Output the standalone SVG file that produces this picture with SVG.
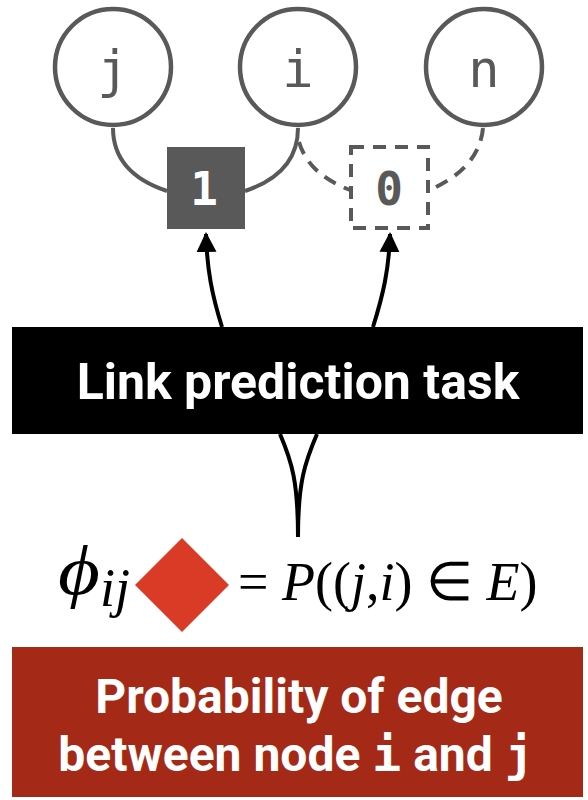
<svg xmlns="http://www.w3.org/2000/svg" width="588" height="800" viewBox="0 0 588 800">
<style>
.node{fill:#fff;stroke:#595959;stroke-width:4.5}
.lbl{font-family:"DejaVu Sans Mono",monospace;font-size:52px;fill:#595959;text-anchor:middle}
.edge{fill:none;stroke:#595959;stroke-width:4}
.dash{stroke-dasharray:13 9}
.arr{fill:none;stroke:#000;stroke-width:4}
.bold{font-family:Roboto,"Liberation Sans",sans-serif;font-weight:bold;fill:#fff;text-anchor:middle}
.math{font-family:"Liberation Serif",serif;font-size:54px;fill:#000}
</style>
<defs>
<marker id="ah" viewBox="0 0 10 10" refX="9" refY="5" markerWidth="5" markerHeight="6.5" orient="auto" markerUnits="strokeWidth">
<path d="M0,0 L10,5 L0,10 z" fill="#000"/>
</marker>
</defs>
<rect width="588" height="800" fill="#fff"/>
<g id="connectors">
<path class="edge" d="M113,128 C113,165 140,182 167,191"/>
<path class="edge" d="M298,128 C298,165 272,182 245,191"/>
<path class="edge dash" d="M299,142 C306,166 326,181 350,190"/>
<path class="edge dash" d="M483,128 C480,160 456,178 430,190"/>
<path class="arr" d="M222,327 C212,295 207,270 206,234" marker-end="url(#ah)"/>
<path class="arr" d="M373,327 C383,295 389,270 390,234" marker-end="url(#ah)"/>
<path class="arr" d="M280,434 C292,462 298,482 298,537"/>
<path class="arr" d="M317,434 C305,462 298,482 298,537"/>
</g>
<g id="node-j"><circle class="node" cx="113" cy="67" r="58"/><text class="lbl" x="113" y="87">j</text></g>
<g id="node-i"><circle class="node" cx="298" cy="67" r="58"/><text class="lbl" x="298" y="87">i</text></g>
<g id="node-n"><circle class="node" cx="484" cy="67" r="58"/><text class="lbl" x="484" y="87">n</text></g>
<g id="edge-1"><rect x="167" y="147" width="78" height="82" fill="#595959"/><text x="204" y="205" font-family="'DejaVu Sans Mono',monospace" font-weight="bold" font-size="46" fill="#fff" text-anchor="middle">1</text></g>
<g id="edge-0"><rect x="351" y="147" width="77" height="81" fill="#fff" stroke="#595959" stroke-width="4" stroke-dasharray="13 9"/><text x="389" y="205" font-family="'DejaVu Sans Mono',monospace" font-weight="bold" font-size="46" fill="#595959" text-anchor="middle">0</text></g>
<g id="task"><rect x="12" y="327" width="571" height="107" fill="#000"/><text class="bold" x="298" y="399" font-size="50">Link prediction task</text></g>
<g id="formula">
<text class="math" transform="translate(58,594) scale(1.5,1.3)" font-style="italic" font-size="62">ϕ</text>
<text class="math" x="100" y="606" font-style="italic" font-size="32">ij</text>
<polygon points="182,538 229,585 182,632 135,585" fill="#DA3B26"/>
<text class="math" x="238" y="600">= <tspan font-style="italic">P</tspan>((<tspan font-style="italic">j</tspan>,<tspan font-style="italic">i</tspan>) ∈ <tspan font-style="italic">E</tspan>)</text>
</g>
<g id="result"><rect x="12" y="647" width="571" height="150" fill="#A42A17"/>
<text class="bold" x="299" y="713" font-size="48">Probability of edge</text>
<text class="bold" x="296" y="771" font-size="48">between node <tspan font-family="'DejaVu Sans Mono',monospace">i</tspan> and <tspan font-family="'DejaVu Sans Mono',monospace">j</tspan></text>
</g>
</svg>
